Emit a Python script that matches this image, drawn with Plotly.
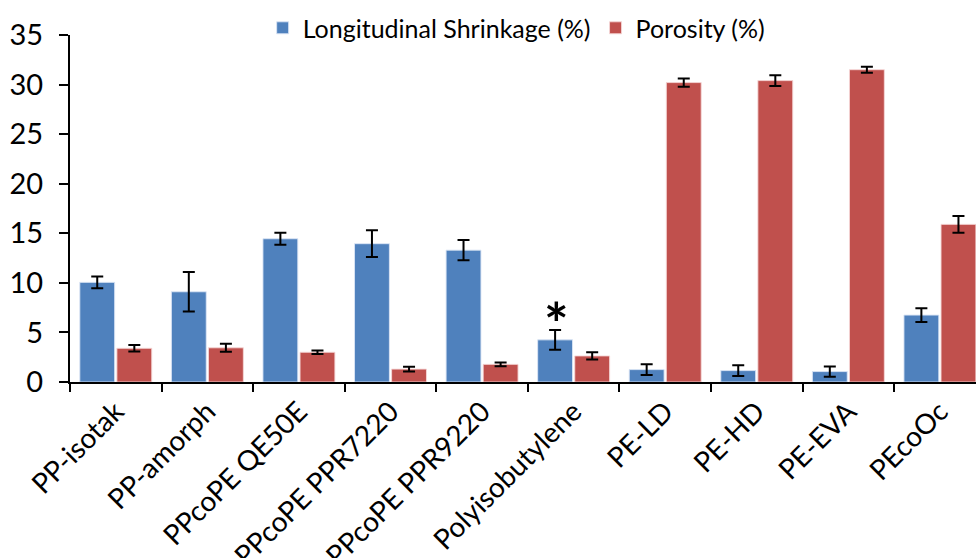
import plotly.graph_objects as go

categories = ["PP-isotak", "PP-amorph", "PPcoPE QE50E", "PPcoPE PPR7220", "PPcoPE PPR9220",
              "Polyisobutylene", "PE-LD", "PE-HD", "PE-EVA", "PEcoOc"]
shrinkage = [10.05, 9.1, 14.45, 13.95, 13.3, 4.25, 1.25, 1.15, 1.05, 6.75]
shrinkage_err = [0.6, 2.0, 0.6, 1.35, 1.03, 1.0, 0.54, 0.54, 0.52, 0.7]
porosity = [3.4, 3.45, 3.0, 1.3, 1.78, 2.63, 30.2, 30.4, 31.5, 15.9]
porosity_err = [0.33, 0.4, 0.17, 0.25, 0.18, 0.37, 0.42, 0.55, 0.3, 0.85]
yticks = [0, 5, 10, 15, 20, 25, 30, 35]
star_category = "Polyisobutylene"

FONT = "Lato"
BLUE = "#4F81BD"
RED = "#C0504D"

fig = go.Figure()
fig.add_trace(go.Bar(
    name="Longitudinal Shrinkage (%)", x=categories, y=shrinkage,
    marker=dict(color=BLUE, line=dict(color="rgba(220,230,245,0.9)", width=1)),
    error_y=dict(type="data", array=shrinkage_err, color="black", thickness=2, width=6),
))
fig.add_trace(go.Bar(
    name="Porosity (%)", x=categories, y=porosity,
    marker=dict(color=RED, line=dict(color="rgba(245,215,215,0.9)", width=1)),
    error_y=dict(type="data", array=porosity_err, color="black", thickness=2, width=6),
))

bargap = 0.19
idx = categories.index(star_category)
fig.add_annotation(
    x=star_category, y=shrinkage[idx] + shrinkage_err[idx], yanchor="bottom",
    text="<b>*</b>", showarrow=False, xshift=-17.5, yshift=-29,
    font=dict(family=FONT, size=58, color="black"),
)

n = len(categories)
fig.update_layout(
    width=976, height=558,
    margin=dict(l=70, r=0, t=35, b=176, autoexpand=False),
    paper_bgcolor="white", plot_bgcolor="white",
    barmode="group", bargap=bargap, bargroupgap=0.06,
    font=dict(family=FONT, color="black"),
    showlegend=True,
    legend=dict(orientation="h", x=0.493, xanchor="center", y=1.02, yanchor="middle",
                font=dict(family=FONT, size=25), itemwidth=30, traceorder="normal"),
    xaxis=dict(
        type="category", range=[-0.5, n - 0.5 - 0.106],
        showline=True, linecolor="black", linewidth=2,
        ticks="outside", tickson="boundaries", ticklen=8, tickwidth=2, tickcolor="black",
        tickangle=-45, tickfont=dict(family=FONT, size=28), showgrid=False,
    ),
    yaxis=dict(
        range=[0, 35], tickvals=yticks,
        showline=True, linecolor="black", linewidth=2,
        ticks="outside", ticklen=9, tickwidth=2, tickcolor="black", ticklabelstandoff=10,
        tickfont=dict(family=FONT, size=29), showgrid=False, zeroline=False,
    ),
)

fig.write_html("out.html")
